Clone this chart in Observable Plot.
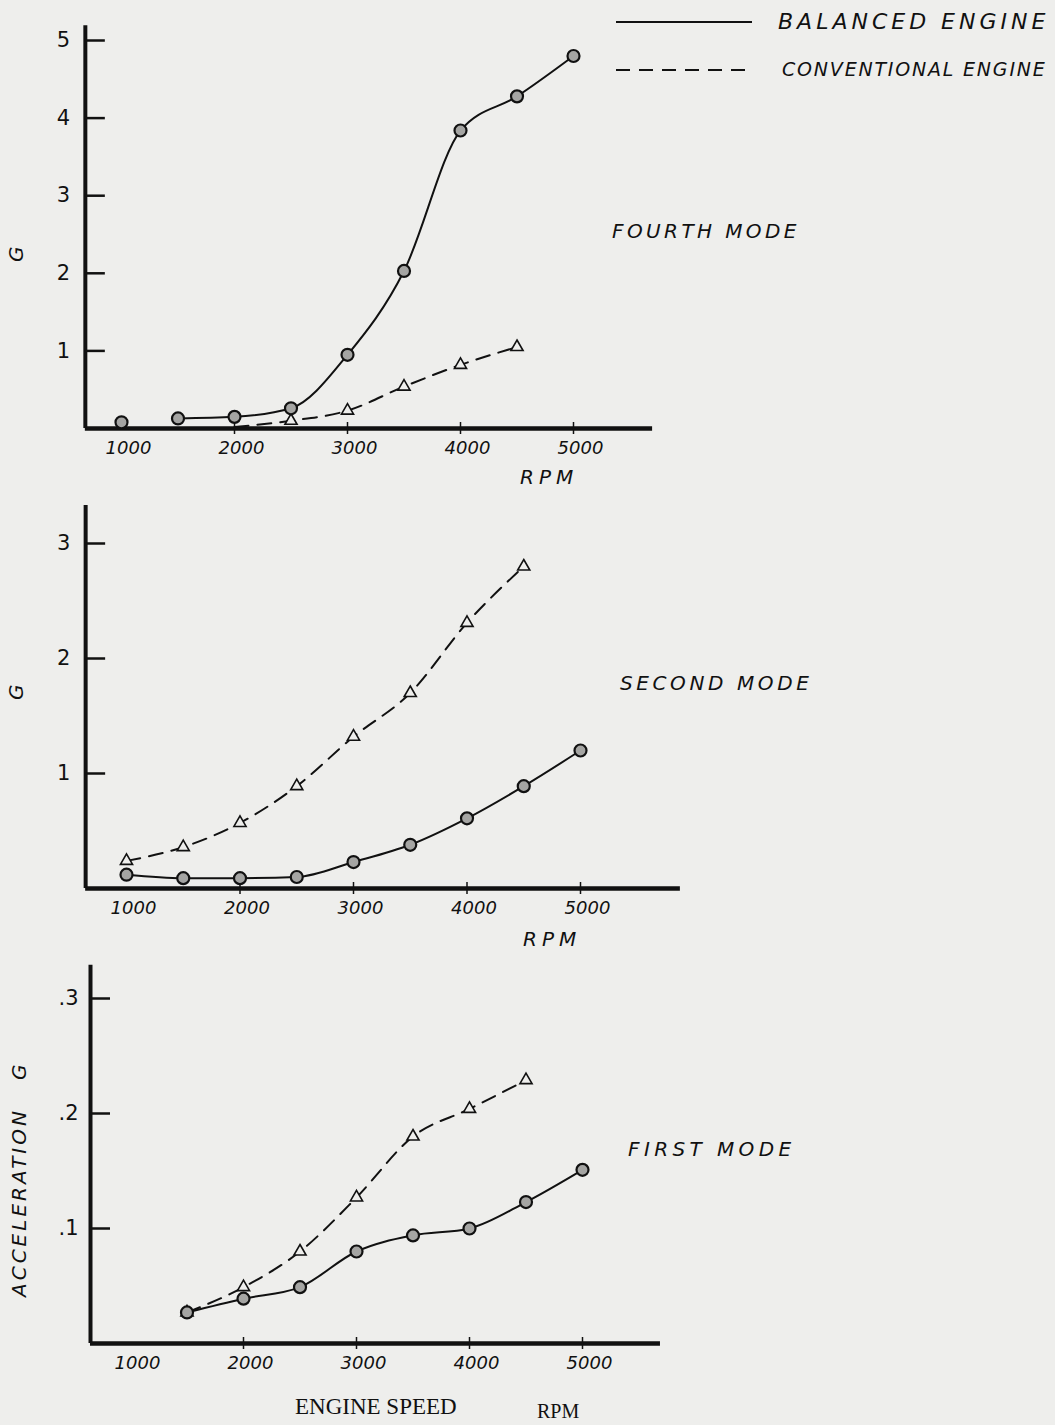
<!DOCTYPE html>
<html>
<head>
<meta charset="utf-8">
<script src="https://cdn.jsdelivr.net/npm/d3@7"></script>
<script src="https://cdn.jsdelivr.net/npm/@observablehq/plot@0.6"></script>
<style>
  html, body { margin: 0; padding: 0; }
  body { width: 1055px; height: 1425px; background: #eeeeec; position: relative; overflow: hidden;
         font-family: "DejaVu Sans", sans-serif; color: #111; }
  .layer { position: absolute; left: 0; top: 0; }
  .lbl { position: absolute; white-space: nowrap; font-style: italic; color: #111; line-height: 1; }
  .rot { transform-origin: 0 0; transform: rotate(-90deg); }
  .serif { font-family: "Liberation Serif", serif; font-style: normal; }
</style>
</head>
<body>
<div id="p1" class="layer"></div>
<div id="p2" class="layer"></div>
<div id="p3" class="layer"></div>

<!-- legend -->
<svg class="layer" width="1055" height="100">
  <line x1="616" x2="752" y1="22" y2="22" stroke="#111" stroke-width="2.2"/>
  <line x1="616" x2="752" y1="70" y2="70" stroke="#111" stroke-width="2.2" stroke-dasharray="14,9"/>
</svg>
<div class="lbl" style="left:778px; top:11px; font-size:22px; letter-spacing:4px;">BALANCED ENGINE</div>
<div class="lbl" style="left:782px; top:60px; font-size:19px; letter-spacing:1.8px;">CONVENTIONAL ENGINE</div>

<!-- mode labels -->
<div class="lbl" style="left:612px; top:221px; font-size:20px; letter-spacing:3.4px;">FOURTH MODE</div>
<div class="lbl" style="left:620px; top:673px; font-size:20px; letter-spacing:3.6px;">SECOND MODE</div>
<div class="lbl" style="left:628px; top:1139px; font-size:20px; letter-spacing:4.4px;">FIRST MODE</div>

<!-- axis titles -->
<div class="lbl" style="left:520px; top:467px; font-size:20px; letter-spacing:5px;">RPM</div>
<div class="lbl" style="left:523px; top:929px; font-size:20px; letter-spacing:5px;">RPM</div>
<div class="lbl rot" style="left:6px; top:262px; font-size:20px;">G</div>
<div class="lbl rot" style="left:6px; top:700px; font-size:20px;">G</div>
<div class="lbl rot" style="left:9px; top:1297px; font-size:20px; letter-spacing:3px;">ACCELERATION&nbsp;&nbsp;&nbsp;G</div>
<div class="lbl serif" style="left:295px; top:1395px; font-size:23px;">ENGINE SPEED</div>
<div class="lbl serif" style="left:537px; top:1401px; font-size:20px;">RPM</div>

<script>
// ---------- data ----------
const rpm = [1000, 1500, 2000, 2500, 3000, 3500, 4000, 4500, 5000];
const xTicks = [1000, 2000, 3000, 4000, 5000];
const xTickLabels = ["1000", "2000", "3000", "4000", "5000"];

// Fourth mode (G)
const fourthBalanced = [0.08, 0.13, 0.15, 0.26, 0.95, 2.03, 3.84, 4.28, 4.80];
const fourthConvRpm = [2000, 2500, 3000, 3500, 4000, 4500];
const fourthConventional = [0.02, 0.10, 0.23, 0.54, 0.82, 1.05];
const fourthYTicks = [1, 2, 3, 4, 5];
const fourthYLabels = ["1", "2", "3", "4", "5"];

// Second mode (G)
const secondBalanced = [0.12, 0.09, 0.09, 0.10, 0.23, 0.38, 0.61, 0.89, 1.20];
const secondConvRpm = [1000, 1500, 2000, 2500, 3000, 3500, 4000, 4500];
const secondConventional = [0.24, 0.36, 0.57, 0.89, 1.32, 1.70, 2.31, 2.80];
const secondYTicks = [1, 2, 3];
const secondYLabels = ["1", "2", "3"];

// First mode (acceleration G)
const firstRpm = [1500, 2000, 2500, 3000, 3500, 4000, 4500, 5000];
const firstBalanced = [0.027, 0.039, 0.049, 0.080, 0.094, 0.100, 0.123, 0.151];
const firstConvRpm = [1500, 2000, 2500, 3000, 3500, 4000, 4500];
const firstConventional = [0.027, 0.049, 0.080, 0.127, 0.180, 0.204, 0.229];
const firstYTicks = [0.1, 0.2, 0.3];
const firstYLabels = [".1", ".2", ".3"];

// ---------- drawing ----------
const ink = "#111";
const handFont = "DejaVu Sans, sans-serif";

function panel(cfg) {
  const bal = cfg.balX.map((x, i) => ({x, y: cfg.balY[i]}));
  const balLine = bal.filter(d => d.x >= cfg.balLineFrom);
  const conv = cfg.convX.map((x, i) => ({x, y: cfg.convY[i]}));
  const yt = cfg.yTicks.map((v, i) => ({v, t: cfg.yLabels[i]}));
  const xt = xTicks.map((v, i) => ({v, t: xTickLabels[i]}));
  const tickLen = (cfg.xDomain[1] - cfg.xDomain[0]) / (cfg.xRange[1] - cfg.xRange[0]) * 20;
  return Plot.plot({
    width: 1055, height: 1425, margin: 0,
    style: {background: "transparent", overflow: "visible"},
    x: {domain: cfg.xDomain, range: cfg.xRange, axis: null},
    y: {domain: cfg.yDomain, range: cfg.yRange, axis: null},
    marks: [
      // axes
      Plot.ruleX([cfg.axisX], {y1: 0, y2: cfg.axisTop, stroke: ink, strokeWidth: 4}),
      Plot.ruleY([0], {x1: cfg.axisX, x2: cfg.axisRight, stroke: ink, strokeWidth: 4.5}),
      // y ticks (drawn inward)
      Plot.ruleY(yt, {y: "v", x1: cfg.axisX, x2: cfg.axisX + tickLen, stroke: ink, strokeWidth: 2.5}),
      Plot.text(yt, {y: "v", x: cfg.axisX, text: "t", dx: -22, fontSize: 21, fontFamily: handFont, fill: ink, textAnchor: "middle"}),
      // x ticks
      Plot.ruleX(xt.slice(1), {x: "v", y1: 0, y2: 0, insetTop: -6, insetBottom: -6, stroke: ink, strokeWidth: 1.5}),
      Plot.text(xt, {x: "v", y: 0, text: "t", dy: 20, dx: 7, fontSize: 18, fontStyle: "italic", fontFamily: handFont, fill: ink, letterSpacing: 1}),
      // conventional (dashed, triangles)
      Plot.line(conv, {x: "x", y: "y", stroke: ink, strokeWidth: 2, strokeDasharray: "14,9", curve: "monotone-x"}),
      Plot.dot(conv.slice(cfg.convMarkFrom), {x: "x", y: "y", symbol: "triangle", r: 4.5, stroke: ink, strokeWidth: 1.6, fill: "#eeeeec"}),
      // balanced (solid, circles)
      Plot.line(balLine, {x: "x", y: "y", stroke: ink, strokeWidth: 2, curve: "monotone-x"}),
      Plot.dot(bal, {x: "x", y: "y", r: 6, stroke: ink, strokeWidth: 2.2, fill: "#a5a5a3"})
    ]
  });
}

document.getElementById("p1").append(panel({
  xDomain: [1000, 5000], xRange: [121, 573],
  yDomain: [0, 5], yRange: [428, 40],
  axisX: 680, axisTop: 5.19, axisRight: 5700,
  balX: rpm, balY: fourthBalanced, balLineFrom: 1500,
  convX: fourthConvRpm, convY: fourthConventional, convMarkFrom: 1,
  yTicks: fourthYTicks, yLabels: fourthYLabels
}));

document.getElementById("p2").append(panel({
  xDomain: [1000, 5000], xRange: [126, 580],
  yDomain: [0, 3], yRange: [888, 543],
  axisX: 640, axisTop: 3.33, axisRight: 5880,
  balX: rpm, balY: secondBalanced, balLineFrom: 1000,
  convX: secondConvRpm, convY: secondConventional, convMarkFrom: 0,
  yTicks: secondYTicks, yLabels: secondYLabels
}));

document.getElementById("p3").append(panel({
  xDomain: [1000, 5000], xRange: [130, 582],
  yDomain: [0, 0.3], yRange: [1343, 998],
  axisX: 646, axisTop: 0.329, axisRight: 5690,
  balX: firstRpm, balY: firstBalanced, balLineFrom: 1500,
  convX: firstConvRpm, convY: firstConventional, convMarkFrom: 0,
  yTicks: firstYTicks, yLabels: firstYLabels
}));
</script>
</body>
</html>
